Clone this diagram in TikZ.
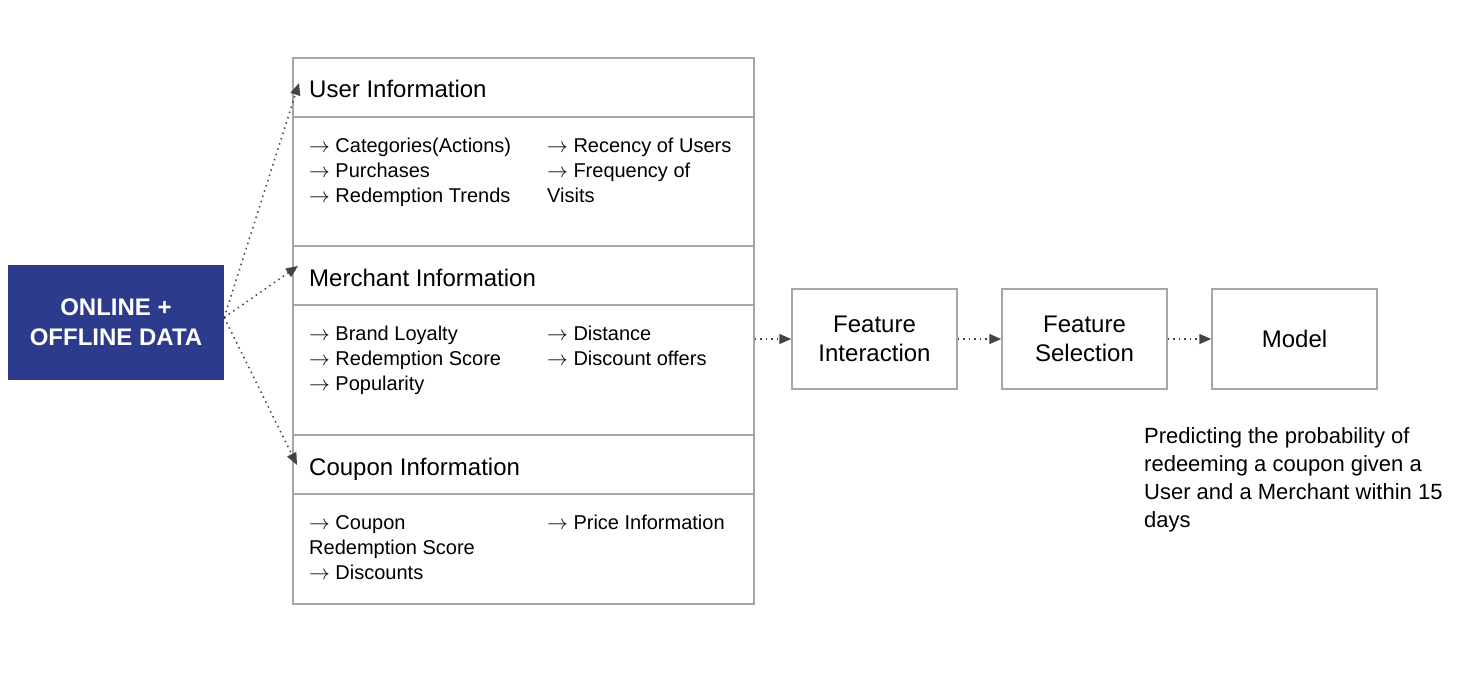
\documentclass[tikz,border=0pt]{standalone}
\usepackage{fontspec}
\setmainfont{Liberation Sans}
\usetikzlibrary{arrows.meta}
\definecolor{navy}{RGB}{44,59,140}
\definecolor{framegray}{HTML}{A6A6A6}
\definecolor{arrowgray}{HTML}{444444}
\newcommand{\pointer}{$\rightarrow$}

\begin{document}
\begin{tikzpicture}[x=1pt,y=-1pt]
\tikzset{box/.style={draw=framegray,line width=1.5pt,minimum width=165pt,minimum height=100pt,align=center,inner sep=0pt,font=\fontsize{24}{29}\selectfont},
  src/.style={fill=navy,text=white,minimum width=216pt,minimum height=115pt,align=center,inner sep=0pt,font=\bfseries\fontsize{24}{30}\selectfont},
  head/.style={anchor=base west,inner sep=0pt,font=\fontsize{24}{29}\selectfont},
  item/.style={anchor=base west,align=left,inner sep=0pt,font=\fontsize{20}{25}\selectfont},
  divider/.style={framegray,line width=1.5pt},
  flow/.style={arrowgray,line width=1.5pt,dash pattern=on 1.5pt off 4pt,-{Triangle[length=12pt,width=10pt]}}}

\useasboundingbox (0,0) rectangle (1468,688);

\path (116,322.5) node[src] (data) {ONLINE +\\OFFLINE DATA};
\path (523.5,331) node[draw=framegray,line width=1.5pt,minimum width=461pt,minimum height=546pt] (panel) {};
\foreach \y in {117,246,305,435,494}
  \draw[divider] (panel.west |- 0,\y) -- (panel.east |- 0,\y);

% multi-line items: base is the last line
\path (309,97) node[head] (userhead) {User Information};
\path (309,202) node[item] (useritems) {\pointer{} Categories(Actions)\\\pointer{} Purchases\\\pointer{} Redemption Trends};
\path (547,202) node[item] (usermore) {\pointer{} Recency of Users\\\pointer{} Frequency of\\Visits};

\path (309,286) node[head] (merchhead) {Merchant Information};
\path (309,390) node[item] (merchitems) {\pointer{} Brand Loyalty\\\pointer{} Redemption Score\\\pointer{} Popularity};
\path (547,365) node[item] (merchmore) {\pointer{} Distance\\\pointer{} Discount offers};

\path (309,475) node[head] (couponhead) {Coupon Information};
\path (309,579) node[item] (couponitems) {\pointer{} Coupon\\Redemption Score\\\pointer{} Discounts};
\path (547,529) node[item] (couponmore) {\pointer{} Price Information};

\path (874.5,339) node[box] (featint) {Feature\\Interaction};
\path (1084.5,339) node[box] (featsel) {Feature\\Selection};
\path (1294.5,339) node[box] (model) {Model};

\path (1144,527) node[item,font=\fontsize{22}{28}\selectfont] (note) {Predicting the probability of\\redeeming a coupon given a\\User and a Merchant within 15\\days};

\coordinate (userin) at (299,83);
\coordinate (merchin) at (298,266);
\coordinate (couponin) at (297,465);

\draw[flow] ([yshift=5pt]data.east) -- (userin);
\draw[flow] ([yshift=5pt]data.east) -- (merchin);
\draw[flow] ([yshift=5pt]data.east) -- (couponin);

\draw[flow] (panel.east |- featint.west) -- (featint.west);
\draw[flow] (featint) -- (featsel);
\draw[flow] (featsel) -- (model);
\end{tikzpicture}
\end{document}
